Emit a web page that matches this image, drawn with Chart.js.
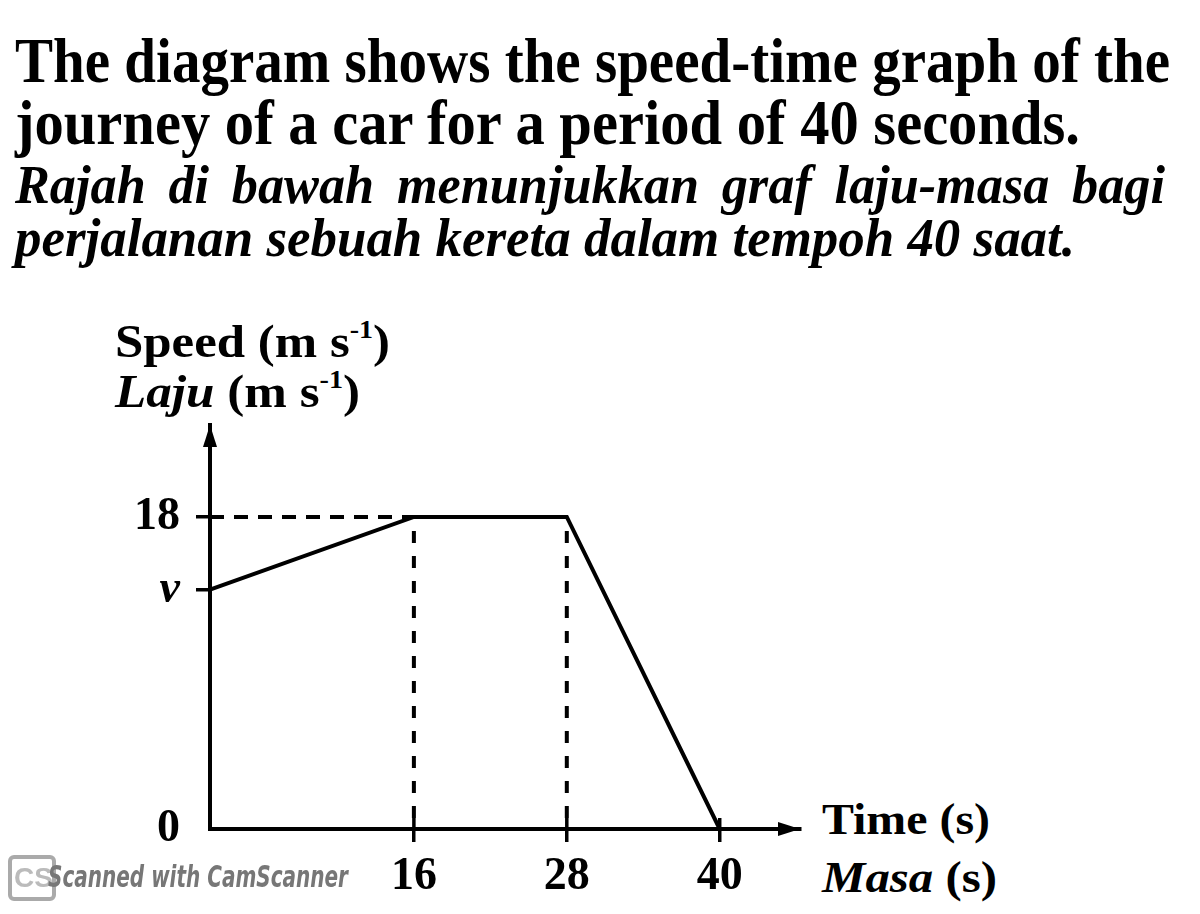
<!DOCTYPE html>
<html lang="en">
<head>
    <meta charset="UTF-8">
    <title>Speed-time graph</title>
    <script src="https://cdn.jsdelivr.net/npm/chart.js"></script>
    <style>
        body {
            margin: 0;
            width: 1200px;
            height: 914px;
            background: #fff;
            position: relative;
            overflow: hidden;
            font-family: "Liberation Serif", "DejaVu Serif", serif;
            font-weight: bold;
            color: #000;
        }
        #chart {
            position: absolute;
            left: 0;
            top: 0;
        }
        .fit {
            position: absolute;
            white-space: nowrap;
            line-height: 1;
            transform-origin: 0 0;
            display: inline-block;
        }
        .it { font-style: italic; }
        sup { font-size: 0.55em; vertical-align: 0.75em; line-height: 0; }
        .cs-logo {
            position: absolute;
            left: 8px;
            top: 855px;
            width: 48px;
            height: 46px;
            border: 4px solid #aaa;
            border-radius: 6px;
            box-sizing: border-box;
            color: #bbb;
            font: bold 28px "Liberation Sans", sans-serif;
            line-height: 38px;
            text-indent: 2px;
        }
        .cs-text {
            position: absolute;
            left: 48px;
            top: 862px;
            color: #777;
            font: italic bold 30px "Liberation Sans Narrow", "DejaVu Sans Condensed", sans-serif;
            white-space: nowrap;
            line-height: 1;
            transform-origin: 0 0;
        }
    </style>
</head>
<body>
    <div class="fit" style="left:15px; top:30px; font-size:63px;" data-w="1155">The diagram shows the speed-time graph of the</div>
    <div class="fit" style="left:15px; top:92px; font-size:63px;" data-w="1065">journey of a car for a period of 40 seconds.</div>
    <div class="fit it" style="left:15px; top:158px; font-size:54px; word-spacing:10px;" data-w="1150">Rajah di bawah menunjukkan graf laju-masa bagi</div>
    <div class="fit it" style="left:15px; top:211px; font-size:54px;" data-w="1060">perjalanan sebuah kereta dalam tempoh 40 saat.</div>

    <div class="fit" style="left:115px; top:319px; font-size:46px;" data-w="275">Speed (m s<sup>-1</sup>)</div>
    <div class="fit" style="left:115px; top:369px; font-size:46px;" data-w="245"><span class="it">Laju</span> (m s<sup>-1</sup>)</div>
    <div class="fit" style="left:822px; top:797px; font-size:45px;" data-w="168">Time (s)</div>
    <div class="fit" style="left:822px; top:855px; font-size:45px;" data-w="175"><span class="it">Masa</span> (s)</div>

    <canvas id="chart" width="1200" height="914"></canvas>

    <div class="cs-logo">CS</div>
    <div class="cs-text fit" data-w="300">Scanned with CamScanner</div>

    <script>
        // values (v is unknown in the question, drawn near 13.8)
        const times = [0, 16, 28, 40];
        const speeds = [13.8, 18, 18, 0];
        const xTicks = [16, 28, 40];
        const yTicks = [0, 13.8, 18];
        const yTickLabels = ['0', 'v', '18'];

        // squeeze each text line to the width it has in the picture
        document.querySelectorAll('.fit').forEach(el => {
            const w = parseFloat(el.dataset.w);
            const natural = el.getBoundingClientRect().width;
            if (w && natural) el.style.transform = 'scaleX(' + (w / natural) + ')';
        });

        const toPoints = (xs, ys) => xs.map((x, i) => ({ x: x, y: ys[i] }));

        const maxSpeed = speeds[1];
        const guides = [
            toPoints([0, times[1]], [maxSpeed, maxSpeed]),
            toPoints([times[1], times[1]], [maxSpeed, 0]),
            toPoints([times[2], times[2]], [maxSpeed, 0])
        ];

        const arrowPlugin = {
            id: 'arrows',
            afterDraw(chart) {
                const a = chart.chartArea;
                const c = chart.ctx;
                c.save();
                c.fillStyle = '#000';
                c.beginPath();
                c.moveTo(a.left, a.top);
                c.lineTo(a.left - 7, a.top + 22);
                c.lineTo(a.left + 7, a.top + 22);
                c.closePath();
                c.fill();
                c.beginPath();
                c.moveTo(a.right, a.bottom);
                c.lineTo(a.right - 22, a.bottom - 7);
                c.lineTo(a.right - 22, a.bottom + 7);
                c.closePath();
                c.fill();
                // x tick marks cross the axis a little
                c.strokeStyle = '#000';
                c.lineWidth = 3.5;
                xTicks.forEach(t => {
                    const px = chart.scales.x.getPixelForValue(t);
                    c.beginPath();
                    c.moveTo(px, a.bottom);
                    c.lineTo(px, a.bottom - 11);
                    c.stroke();
                });
                c.restore();
            }
        };

        const tickFont = { family: '"Liberation Serif", serif', size: 46, weight: 'bold' };

        new Chart(document.getElementById('chart'), {
            type: 'line',
            data: {
                datasets: [
                    {
                        data: toPoints(times, speeds),
                        borderColor: '#000',
                        borderWidth: 4,
                        pointRadius: 0,
                        tension: 0,
                        clip: false
                    },
                    ...guides.map((g, i) => ({
                        data: g,
                        borderColor: '#000',
                        borderWidth: 4,
                        borderDash: i === 0 ? [14, 10] : [12, 13],
                        borderDashOffset: i === 0 ? 0 : -14,
                        pointRadius: 0,
                        clip: false
                    }))
                ]
            },
            options: {
                responsive: false,
                animation: false,
                events: [],
                layout: { padding: { top: 425, right: 400, left: 0, bottom: 0 } },
                plugins: {
                    legend: { display: false },
                    tooltip: { enabled: false }
                },
                scales: {
                    x: {
                        type: 'linear',
                        min: 0,
                        max: 46.3,
                        afterFit: s => { s.height = 85; },
                        afterBuildTicks: s => { s.ticks = xTicks.map(v => ({ value: v })); },
                        border: { color: '#000', width: 4 },
                        grid: {
                            drawOnChartArea: false,
                            color: '#000',
                            lineWidth: 3.5,
                            tickLength: 13
                        },
                        ticks: {
                            color: '#000',
                            font: tickFont,
                            padding: 8,
                            maxRotation: 0,
                            autoSkip: false,
                            callback: v => String(v)
                        }
                    },
                    y: {
                        min: 0,
                        max: 23.3,
                        afterFit: s => { s.width = 210; },
                        afterBuildTicks: s => { s.ticks = yTicks.map(v => ({ value: v })); },
                        border: { color: '#000', width: 4 },
                        grid: {
                            drawOnChartArea: false,
                            color: ctx => (ctx.tick && ctx.tick.value === 0 ? 'rgba(0,0,0,0)' : '#000'),
                            lineWidth: 3.5,
                            tickLength: 14
                        },
                        ticks: {
                            color: '#000',
                            padding: 16,
                            autoSkip: false,
                            font: ctx => (ctx.tick && ctx.tick.value === yTicks[1]
                                ? Object.assign({}, tickFont, { style: 'italic' })
                                : tickFont),
                            callback: (v, i) => yTickLabels[i]
                        }
                    }
                }
            },
            plugins: [arrowPlugin]
        });
    </script>
</body>
</html>
